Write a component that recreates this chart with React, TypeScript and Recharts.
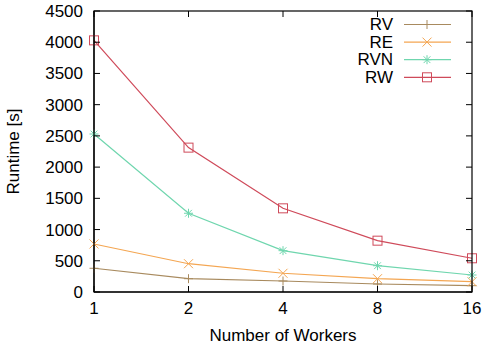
import React from 'react';
import { LineChart, Line, XAxis, YAxis } from 'recharts';

const workers = ['1', '2', '4', '8', '16'];
const rv = [380, 213, 176, 128, 101];
const re = [769, 453, 300, 213, 165];
const rvn = [2530, 1261, 662, 421, 272];
const rw = [4030, 2312, 1340, 822, 540];
const yTicks = [0, 500, 1000, 1500, 2000, 2500, 3000, 3500, 4000, 4500];
const yMax = 4500;

const data = workers.map((w, i) => ({ workers: w, RV: rv[i], RE: re[i], RVN: rvn[i], RW: rw[i] }));

const series = [
  { key: 'RV', color: '#a88a5e', shape: 'plus' },
  { key: 'RE', color: '#f4a652', shape: 'cross' },
  { key: 'RVN', color: '#6fd6ae', shape: 'star' },
  { key: 'RW', color: '#cf4a5a', shape: 'square' },
];

const font = '"Liberation Sans", Arial, sans-serif';
const W = 483;
const H = 347;
const margin = { top: 11, right: 11, left: 0, bottom: 0 };
const Y_W = 94;
const X_H = 55;
const TICK = 6;
// plot box edges, from the chart layout above
const boxL = margin.left + Y_W;
const boxR = W - margin.right;
const boxT = margin.top;
const boxB = H - margin.bottom - X_H;

function Marker({ shape, cx, cy, color }: { shape: string; cx: number; cy: number; color: string }) {
  const s = 4.5;
  const p = { stroke: color, strokeWidth: 1, fill: 'none' };
  if (shape === 'plus') {
    return (
      <g>
        <line x1={cx - s} y1={cy} x2={cx + s} y2={cy} {...p} />
        <line x1={cx} y1={cy - s} x2={cx} y2={cy + s} {...p} />
      </g>
    );
  }
  if (shape === 'cross') {
    return (
      <g>
        <line x1={cx - s} y1={cy - s} x2={cx + s} y2={cy + s} {...p} />
        <line x1={cx - s} y1={cy + s} x2={cx + s} y2={cy - s} {...p} />
      </g>
    );
  }
  if (shape === 'star') {
    return (
      <g>
        <line x1={cx - s} y1={cy} x2={cx + s} y2={cy} {...p} />
        <line x1={cx} y1={cy - s} x2={cx} y2={cy + s} {...p} />
        <line x1={cx - s * 0.75} y1={cy - s * 0.75} x2={cx + s * 0.75} y2={cy + s * 0.75} {...p} />
        <line x1={cx - s * 0.75} y1={cy + s * 0.75} x2={cx + s * 0.75} y2={cy - s * 0.75} {...p} />
      </g>
    );
  }
  return <rect x={cx - s} y={cy - s} width={s * 2} height={s * 2} {...p} />;
}

// gnuplot-style border with inward ticks on all four sides
function Frame() {
  const ys = yTicks.map((v) => boxB - (v / yMax) * (boxB - boxT));
  const xs = workers.map((_, i) => boxL + (i * (boxR - boxL)) / (workers.length - 1));
  return (
    <svg width={W} height={H} style={{ position: 'absolute', left: 0, top: 0, pointerEvents: 'none' }}>
      <g stroke="#000" strokeWidth={1}>
        {ys.map((y, i) => (
          <g key={`y${i}`}>
            <line x1={boxL} y1={y} x2={boxL + TICK} y2={y} />
            <line x1={boxR - TICK} y1={y} x2={boxR} y2={y} />
          </g>
        ))}
        {xs.map((x, i) => (
          <g key={`x${i}`}>
            <line x1={x} y1={boxB} x2={x} y2={boxB - TICK} />
            <line x1={x} y1={boxT} x2={x} y2={boxT + TICK} />
          </g>
        ))}
      </g>
      <rect x={boxL} y={boxT} width={boxR - boxL} height={boxB - boxT} fill="none" stroke="#000" strokeWidth={1.2} />
    </svg>
  );
}

function LegendBox() {
  return (
    <svg width={W} height={100} style={{ position: 'absolute', left: 0, top: 0, pointerEvents: 'none' }}>
      {series.map((s, i) => {
        const y = 24.5 + i * 17.6;
        return (
          <g key={s.key}>
            <text x={393} y={y} textAnchor="end" dominantBaseline="central" fontSize={17} fontFamily={font} fill="#000">
              {s.key}
            </text>
            <line x1={404} y1={y} x2={451} y2={y} stroke={s.color} strokeWidth={1.2} />
            <Marker shape={s.shape} cx={427} cy={y} color={s.color} />
          </g>
        );
      })}
    </svg>
  );
}

export default function App() {
  const tickStyle = { fontSize: 17, fontFamily: font, fill: '#000' };
  const axisLine = { stroke: '#000', strokeWidth: 1.2 };
  return (
    <div style={{ position: 'absolute', left: 0, top: 0, width: W, height: H, background: '#fff' }}>
      <LineChart width={W} height={H} data={data} margin={margin}>
        <XAxis
          dataKey="workers"
          type="category"
          scale="point"
          height={X_H}
          tick={tickStyle}
          tickSize={-6}
          tickMargin={16}
          axisLine={axisLine}
          tickLine={false}
          interval={0}
          label={{ value: 'Number of Workers', position: 'insideBottom', offset: 6, style: { fontSize: 17, fontFamily: font, fill: '#000' } }}
        />
        <YAxis
          domain={[0, yMax]}
          ticks={yTicks}
          width={Y_W}
          tick={tickStyle}
          tickSize={-6}
          tickMargin={17}
          axisLine={axisLine}
          tickLine={false}
          interval={0}
          label={{ value: 'Runtime [s]', angle: -90, position: 'insideLeft', offset: 13, style: { textAnchor: 'middle', fontSize: 17, fontFamily: font, fill: '#000' } }}
        />
        {series.map((s) => (
          <Line
            key={s.key}
            dataKey={s.key}
            stroke={s.color}
            strokeWidth={1.2}
            type="linear"
            isAnimationActive={false}
            dot={(props: any) => (
              <Marker key={`${s.key}-${props.index}`} shape={s.shape} cx={props.cx} cy={props.cy} color={s.color} />
            )}
          />
        ))}
      </LineChart>
      <Frame />
      <LegendBox />
    </div>
  );
}
